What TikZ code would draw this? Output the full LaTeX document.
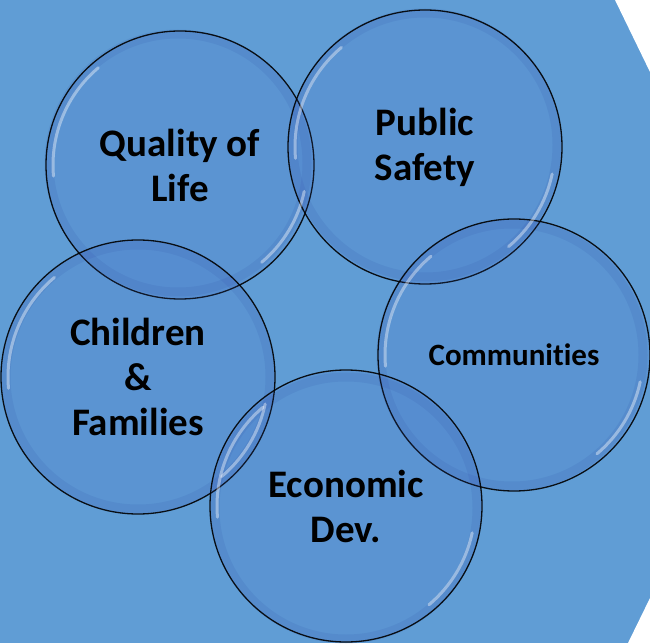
\documentclass[tikz,border=0pt]{standalone}
\usepackage{fontspec}
\setmainfont{Carlito}[Ligatures={NoCommon,NoRare}]
\definecolor{bg}{RGB}{96,157,213}
\definecolor{bub}{RGB}{60,95,195}
\definecolor{ring}{RGB}{40,70,160}
\begin{document}
\begin{tikzpicture}[x=1pt,y=1pt,
  bubble/.style={circle, draw=black, line width=1.3pt, fill=bub, fill opacity=0.13, draw opacity=0.9, text opacity=1, align=center, inner sep=0pt, font=\bfseries\fontsize{39}{45}\selectfont},
  gloss/.style={white, line width=3pt, opacity=0.4, line cap=round},
  shade/.style={ring, line width=9pt, opacity=0.12}]
\useasboundingbox (0,0) rectangle (650,643);
\fill[bg] (0,0) rectangle (650,643);
\fill[white] (615,643) -- (650,643) -- (650,571) -- cycle;
\fill[white] (650,45) -- (650,0) -- (628,0) -- cycle;
% inner shading rings
\foreach \cx/\cy/\r in {178/480/134, 425/498/137, 512/288/136, 138/266/137, 346/135/136}{
  \draw[shade] (\cx,\cy) circle[radius=\r-5];
}
\node[bubble, minimum size=268pt] (qol) at (180,478) {Quality of\\Life};
\node[bubble, minimum size=274pt] (ps) at (425,496) {Public\\Safety};
\node[bubble, minimum size=272pt, font=\bfseries\fontsize{31}{37}\selectfont] (com) at (514,288) {Communities};
\node[bubble, minimum size=274pt] (cf) at (138,266) {Children\\\&\\Families};
\node[bubble, minimum size=272pt] (ed) at (346,137) {Economic\\Dev.};
% gloss highlights
\foreach \n/\r in {qol/134, ps/137, com/136, cf/137, ed/136}{
  \draw[gloss] ([shift={(130:\r-7)}]\n.center) arc[start angle=130, end angle=185, radius=\r-7];
  \draw[gloss] ([shift={(-12:\r-7)}]\n.center) arc[start angle=-12, end angle=-50, radius=\r-7];
}
\end{tikzpicture}
\end{document}
